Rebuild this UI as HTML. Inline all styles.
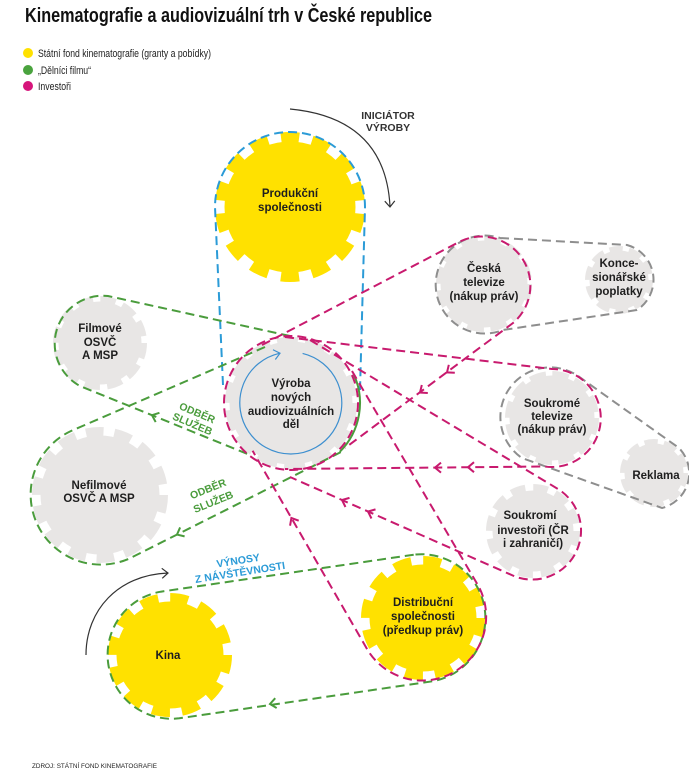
<!DOCTYPE html>
<html>
<head>
<meta charset="utf-8">
<style>
html,body{margin:0;padding:0;background:#fff;}
svg{display:block;}
</style>
</head>
<body>
<svg width="689" height="781" viewBox="0 0 689 781" xmlns="http://www.w3.org/2000/svg" font-family="'Liberation Sans', 'DejaVu Sans', sans-serif">
<rect x="0" y="0" width="689" height="781" fill="#ffffff"/>

<!-- Title -->
<text x="25" y="22" font-size="20" font-weight="bold" fill="#111" textLength="407" lengthAdjust="spacingAndGlyphs">Kinematografie a audiovizuální trh v České republice</text>

<!-- Legend -->
<circle cx="28" cy="53" r="5" fill="#ffe100"/>
<circle cx="28" cy="70" r="5" fill="#4aa33e"/>
<circle cx="28" cy="86" r="5" fill="#d6157b"/>
<text x="38" y="57" font-size="11" fill="#222" textLength="173" lengthAdjust="spacingAndGlyphs">Státní fond kinematografie (granty a pobídky)</text>
<text x="38" y="74" font-size="11" fill="#222" textLength="53" lengthAdjust="spacingAndGlyphs">„Dělníci filmu“</text>
<text x="38" y="90" font-size="11" fill="#222" textLength="33" lengthAdjust="spacingAndGlyphs">Investoři</text>

<!-- ===== GEARS ===== -->
<!-- Produkční -->
<circle cx="290" cy="207" r="65.5" fill="#ffe100"/>
<circle cx="290" cy="207" r="70" fill="none" stroke="#ffe100" stroke-width="10" stroke-dasharray="18.22 13.19" stroke-dashoffset="24.8"/>
<!-- Výroba -->
<circle cx="291" cy="403" r="61.5" fill="#e8e6e5"/>
<circle cx="291" cy="403" r="63.5" fill="none" stroke="#e8e6e5" stroke-width="5" stroke-dasharray="21.1 7.4"/>
<!-- Česká televize -->
<circle cx="484" cy="284" r="43.5" fill="#e8e6e5"/>
<circle cx="484" cy="284" r="45.5" fill="none" stroke="#e8e6e5" stroke-width="5" stroke-dasharray="17.15 6.67"/>
<!-- Koncesionářské -->
<circle cx="619" cy="280" r="29.5" fill="#e8e6e5"/>
<circle cx="619" cy="280" r="31.5" fill="none" stroke="#e8e6e5" stroke-width="5" stroke-dasharray="13.46 6.33"/>
<!-- Filmové -->
<circle cx="100" cy="343" r="41.5" fill="#e8e6e5"/>
<circle cx="100" cy="343" r="44" fill="none" stroke="#e8e6e5" stroke-width="6" stroke-dasharray="15.67 7.37"/>
<!-- Nefilmové -->
<circle cx="100" cy="495" r="59.5" fill="#e8e6e5"/>
<circle cx="100" cy="495" r="63.5" fill="none" stroke="#e8e6e5" stroke-width="9" stroke-dasharray="17.67 10.83"/>
<!-- Soukromé televize -->
<circle cx="552" cy="418" r="42.5" fill="#e8e6e5"/>
<circle cx="552" cy="418" r="44.5" fill="none" stroke="#e8e6e5" stroke-width="5" stroke-dasharray="16.78 6.52"/>
<!-- Reklama -->
<circle cx="654" cy="473" r="29.5" fill="#e8e6e5"/>
<circle cx="654" cy="473" r="31.5" fill="none" stroke="#e8e6e5" stroke-width="5" stroke-dasharray="13.46 6.33"/>
<!-- Soukromí investoři -->
<circle cx="533" cy="531" r="40.5" fill="#e8e6e5"/>
<circle cx="533" cy="531" r="43.5" fill="none" stroke="#e8e6e5" stroke-width="7" stroke-dasharray="14.8 7.97"/>
<!-- Kina -->
<circle cx="170" cy="655" r="53.5" fill="#ffe100"/>
<circle cx="170" cy="655" r="57.5" fill="none" stroke="#ffe100" stroke-width="9" stroke-dasharray="18.06 12.04"/>
<!-- Distribuční -->
<circle cx="423" cy="618" r="53.5" fill="#ffe100"/>
<circle cx="423" cy="618" r="57.5" fill="none" stroke="#ffe100" stroke-width="9" stroke-dasharray="18.06 12.04"/>

<!-- ===== GRAY LOOPS ===== -->
<g fill="none" stroke="#8e8e8e" stroke-width="2" stroke-dasharray="9 5">
<path d="M500,238 L627,245 A36,36 0 0 1 637,310 L503,330 A49,49 0 1 1 500,238"/>
<path d="M578,376 L679,448 A36,36 0 0 1 662,508 L522,458 A49.5,49.5 0 0 1 578,376"/>
</g>

<!-- ===== BLUE LOOP ===== -->
<path d="M223,385 L215,207 A75,75 0 0 1 365,207 L360,390" fill="none" stroke="#2b9bd7" stroke-width="2" stroke-dasharray="9 5"/>

<!-- ===== GREEN LOOPS ===== -->
<g fill="none" stroke="#4a9c3c" stroke-width="2" stroke-dasharray="9 5">
<path d="M290,336 L108,296 A48,48 0 0 0 80,386 L250,455"/>
<path d="M265,347 L71,431 A70,70 0 1 0 130.5,558 L345,450"/>
<path d="M413.7,554.7 L160.7,591.7 A64,64 0 0 0 179.3,718.3 L432.3,681.3 A64,64 0 0 0 413.7,554.7"/>
</g>
<path d="M353.5,373.8 A69,69 0 0 1 339.8,451.8" fill="none" stroke="#4a9c3c" stroke-width="2"/>
<!-- green arrows -->
<g fill="none" stroke="#4a9c3c" stroke-width="2">
<path d="M-6,-5 L0,0 L-6,5" transform="translate(152,415.2) rotate(-157.9)"/>
<path d="M-6,-5 L0,0 L-6,5" transform="translate(177,534.6) rotate(153.3)"/>
<path d="M-6,-5 L0,0 L-6,5" transform="translate(270,704) rotate(171.7)"/>
</g>

<!-- ===== PINK LOOPS ===== -->
<g fill="none" stroke="#c81a6e" stroke-width="2" stroke-dasharray="9 5">
<circle cx="291" cy="403" r="67"/>
<path d="M262,345 L461,241 A49,49 0 0 1 513,323 L345,448"/>
<path d="M285,337 L552,369 A49,49 0 1 1 544.8,466.5 L285,469"/>
<path d="M310,340 L558,489 A49,49 0 0 1 515,576.5 L290,477"/>
<path d="M352,371 L478.4,586 A64,64 0 0 1 367.6,650 L252.6,450.8"/>
</g>
<!-- pink arrows -->
<g fill="none" stroke="#c81a6e" stroke-width="2">
<path d="M-6,-5 L0,0 L-6,5" transform="translate(447,372.4) rotate(143.2)"/>
<path d="M-6,-5 L0,0 L-6,5" transform="translate(420,392.6) rotate(143.2)"/>
<path d="M-6,-5 L0,0 L-6,5" transform="translate(435,467.6) rotate(180)"/>
<path d="M-6,-5 L0,0 L-6,5" transform="translate(468,467.2) rotate(180)"/>
<path d="M-6,-5 L0,0 L-6,5" transform="translate(342,500) rotate(-156.1)"/>
<path d="M-6,-5 L0,0 L-6,5" transform="translate(368,511.5) rotate(-156.1)"/>
<path d="M-6,-5 L0,0 L-6,5" transform="translate(291.4,518) rotate(-120)"/>
</g>

<!-- Inner blue cycle arrow in Výroba -->
<path d="M302.6,353.4 A51,51 0 1 1 279,353.4" fill="none" stroke="#3d8fcf" stroke-width="1.2"/>
<path d="M-6,-5 L0,0 L-6,5" transform="translate(280,353.2) rotate(-13.6)" fill="none" stroke="#3d8fcf" stroke-width="1.2"/>

<!-- Black curved arrows -->
<path d="M290,109 Q385,118 390,206" fill="none" stroke="#333" stroke-width="1.2"/>
<path d="M-6,-5 L0,0 L-6,5" transform="translate(390,207) rotate(88)" fill="none" stroke="#333" stroke-width="1.2"/>
<path d="M86,655 C86,610 118,575 168,573" fill="none" stroke="#333" stroke-width="1.2"/>
<path d="M-6,-5 L0,0 L-6,5" transform="translate(168,573) rotate(-3)" fill="none" stroke="#333" stroke-width="1.2"/>

<!-- ===== LABELS ===== -->
<g font-size="11.5" font-weight="bold" fill="#1e1e1e" text-anchor="middle">
<text x="290" y="197">Produkční</text>
<text x="290" y="211">společnosti</text>

<text x="291" y="387">Výroba</text>
<text x="291" y="401">nových</text>
<text x="291" y="415">audiovizuálních</text>
<text x="291" y="428">děl</text>

<text x="484" y="272">Česká</text>
<text x="484" y="286">televize</text>
<text x="484" y="300">(nákup práv)</text>

<text x="619" y="267">Konce-</text>
<text x="619" y="281">sionářské</text>
<text x="619" y="295">poplatky</text>

<text x="100" y="332">Filmové</text>
<text x="100" y="346">OSVČ</text>
<text x="100" y="359">A MSP</text>

<text x="99" y="489">Nefilmové</text>
<text x="99" y="502">OSVČ A MSP</text>

<text x="552" y="407">Soukromé</text>
<text x="552" y="420">televize</text>
<text x="552" y="433">(nákup práv)</text>

<text x="656" y="479">Reklama</text>

<text x="530" y="519">Soukromí</text>
<text x="533" y="534">investoři (ČR</text>
<text x="533" y="547">i zahraničí)</text>

<text x="168" y="659">Kina</text>

<text x="423" y="606">Distribuční</text>
<text x="423" y="620">společnosti</text>
<text x="423" y="634">(předkup práv)</text>
</g>

<g font-size="10.5" font-weight="bold" fill="#333" text-anchor="middle">
<text x="388" y="119">INICIÁTOR</text>
<text x="388" y="131">VÝROBY</text>
</g>

<g font-size="10.5" font-weight="bold" fill="#4a9c3c" text-anchor="middle">
<g transform="translate(195,418) rotate(23)">
<text x="0" y="-2">ODBĚR</text>
<text x="0" y="10">SLUŽEB</text>
</g>
<g transform="translate(210.5,495) rotate(-22)">
<text x="0" y="-3">ODBĚR</text>
<text x="0" y="11">SLUŽEB</text>
</g>
</g>

<g font-size="10.5" font-weight="bold" fill="#2b9bd7" text-anchor="middle" transform="translate(239,566) rotate(-9)">
<text x="0" y="-2">VÝNOSY</text>
<text x="0" y="10">Z NÁVŠTĚVNOSTI</text>
</g>

<!-- Footer -->
<text x="32" y="768" font-size="6" fill="#222" textLength="125" lengthAdjust="spacingAndGlyphs">ZDROJ: STÁTNÍ FOND KINEMATOGRAFIE</text>
</svg>
</body>
</html>
